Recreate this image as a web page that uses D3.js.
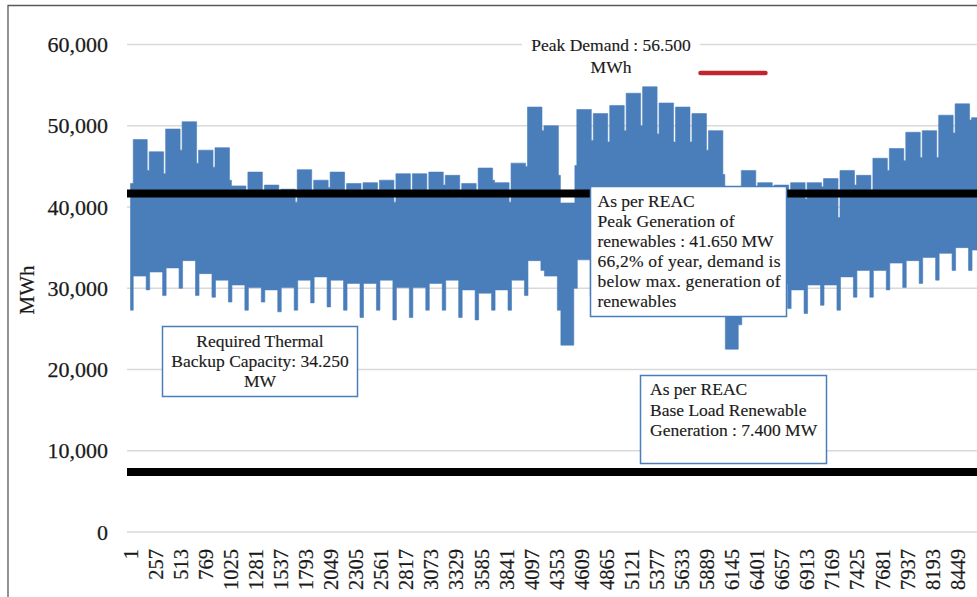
<!DOCTYPE html>
<html>
<head>
<meta charset="utf-8">
<script src="https://cdn.jsdelivr.net/npm/d3@7"></script>
<style>
  html, body { margin: 0; padding: 0; background: #ffffff; }
  svg { display: block; }
  text { font-family: "Liberation Serif", "Times New Roman", serif; fill: #1a1a1a; }
</style>
</head>
<body>
<script>
// ---- data (MWh) ----
// weekly blocks of the hourly demand envelope: weekend k is around hours [168k-7, 168k+29),
// weekday k covers hours [168k+29, 168k+161)
const weekdayHigh = [48300, 46800, 49600, 50500, 47000, 47300, 42600, 44300, 42700, 42200,
  44600, 43300, 44300, 42900, 43000, 43300, 44100, 44100, 44300, 43900,
  42900, 44800, 43000, 45400, 52300, 50000, 40500, 52000, 51500, 52500,
  54000, 54800, 52800, 52300, 51500, 49400, 41500, 44500, 43000, 42700,
  43000, 43000, 43500, 44500, 43900, 46000, 47200, 49200, 49400, 51300,
  52700, 51000];
const weekdayLow = [31500, 32000, 32500, 33400, 31800, 31000, 30400, 30100, 29800, 30100,
  31000, 31400, 31000, 30600, 30600, 31000, 30100, 30100, 30600, 31000,
  29800, 29400, 29800, 31000, 33400, 31500, 23000, 33500, 32000, 32000,
  32500, 32500, 32000, 32000, 31500, 31000, 22500, 30000, 30500, 30500,
  29800, 30400, 30400, 31400, 32200, 32200, 33100, 33400, 33800, 34300,
  35000, 34700];
const weekendHigh = [42900, 44500, 44100, 47000, 45400, 44900, 43300, 41500, 41700, 41800,
  40600, 42000, 42400, 42000, 41400, 42000, 40600, 42000, 42000, 42700,
  41200, 42000, 43300, 40600, 45000, 49400, 43900, 45100, 48200, 48000,
  49400, 50000, 49000, 48000, 48000, 47000, 44000, 40000, 41500, 41500,
  41500, 41000, 42500, 38700, 42700, 42000, 44500, 45700, 46100, 46100,
  49100, 50700, 48000];
const weekendLow = [27300, 29800, 29100, 30000, 29100, 28900, 28300, 27300, 28300, 27100,
  27300, 28200, 27700, 27300, 26400, 27300, 26100, 26400, 27300, 27300,
  26400, 26100, 27300, 27300, 29100, 32200, 27300, 30000, 29000, 29000,
  29000, 29000, 29000, 29000, 29000, 28500, 27000, 25500, 28000, 28000,
  27500, 26900, 27900, 27300, 28900, 28900, 29800, 30100, 30600, 31000,
  32200, 32200, 31500];

const yTicks = [0, 10000, 20000, 30000, 40000, 50000, 60000];
const xTickLabels = [1, 257, 513, 769, 1025, 1281, 1537, 1793, 2049, 2305, 2561, 2817,
  3073, 3329, 3585, 3841, 4097, 4353, 4609, 4865, 5121, 5377, 5633, 5889, 6145, 6401,
  6657, 6913, 7169, 7425, 7681, 7937, 8193, 8449];
const hoursInYear = 8760;

const peakGeneration = 41650;   // MW
const baseLoadGeneration = 7400; // MW
const peakDemand = { value: 56500, startHour: 5823, endHour: 6487 };

const boxThermal = ["Required Thermal", "Backup Capacity:  34.250", "MW"];
const boxPeak = ["As per REAC", "Peak Generation of", "renewables : 41.650 MW",
  "66,2% of year, demand is", "below max. generation of", "renewables"];
const boxBase = ["As per REAC", "Base Load Renewable", "Generation : 7.400 MW"];
const peakLabel = ["Peak Demand : 56.500", "MWh"];

// ---- build envelope points (step breakpoints of the weekly blocks) ----
const pts = [];
for (let k = 0; k < weekendHigh.length; k++) {
  const nextHigh = k < weekdayHigh.length ? weekdayHigh[k] : weekendHigh[k];
  if (k === 0) {
    pts.push({ h: 1, hi: weekendHigh[0], lo: weekendLow[0] });
  } else {
    pts.push({ h: 168 * k - 7, hi: weekdayHigh[k - 1], lo: weekendLow[k] });
    pts.push({ h: 168 * k + 4, hi: weekendHigh[k], lo: weekendLow[k] });
    pts.push({ h: 168 * k + 24, hi: nextHigh, lo: weekendLow[k] });
  }
  if (k < weekdayHigh.length) {
    pts.push({ h: 168 * k + 29, hi: weekdayHigh[k], lo: weekdayLow[k] });
  }
}
const lastP = pts[pts.length - 1];
pts.push({ h: hoursInYear, hi: lastP.hi, lo: lastP.lo });

// ---- drawing ----
const W = 977, H = 597;
const svg = d3.select("body").append("svg").attr("width", W).attr("height", H);

const x = d3.scaleLinear().domain([1, hoursInYear]).range([130.5, 130.5 + 8759 * 0.0979]);
const y = d3.scaleLinear().domain([0, 60000]).range([532, 44.5]);

const gridLeft = 127, gridRight = W;

// gridlines
svg.append("g").selectAll("line").data(yTicks).join("line")
  .attr("x1", gridLeft).attr("x2", gridRight)
  .attr("y1", d => y(d)).attr("y2", d => y(d))
  .attr("stroke", "#d9d9d9").attr("stroke-width", 1.3);

// y tick labels
svg.append("g").selectAll("text").data(yTicks).join("text")
  .attr("x", 108).attr("y", d => y(d)).attr("dy", "0.35em")
  .attr("text-anchor", "end").attr("font-size", 22)
  .attr("stroke", "#1a1a1a").attr("stroke-width", 0.25)
  .text(d => d3.format(",")(d));

// y axis title
svg.append("text").attr("transform", "translate(34,290) rotate(-90)")
  .attr("text-anchor", "middle").attr("font-size", 21)
  .attr("stroke", "#1a1a1a").attr("stroke-width", 0.2).text("MWh");

// x tick labels
svg.append("g").selectAll("text").data(xTickLabels).join("text")
  .attr("transform", d => `translate(${x(d)},549) rotate(-90)`)
  .attr("dy", "0.35em").attr("text-anchor", "end").attr("font-size", 20.5)
  .attr("stroke", "#1a1a1a").attr("stroke-width", 0.2)
  .text(d => d);

// demand area
const area = d3.area().x(d => x(d.h)).y0(d => y(d.lo)).y1(d => y(d.hi))
  .curve(d3.curveStepAfter);
svg.append("path").datum(pts).attr("d", area)
  .attr("fill", "#4a7ebb").attr("stroke", "#4a7ebb")
  .attr("stroke-width", 0.6).attr("stroke-linejoin", "round");

// generation lines
[peakGeneration, baseLoadGeneration].forEach(v => {
  svg.append("line").attr("x1", gridLeft).attr("x2", gridRight)
    .attr("y1", y(v)).attr("y2", y(v))
    .attr("stroke", "#000").attr("stroke-width", 8);
});

// peak demand marker
svg.append("line")
  .attr("x1", x(peakDemand.startHour)).attr("x2", x(peakDemand.endHour))
  .attr("y1", y(peakDemand.value)).attr("y2", y(peakDemand.value))
  .attr("stroke", "#c0272d").attr("stroke-width", 4.5).attr("stroke-linecap", "round");

// peak demand label
svg.append("rect").attr("x", 522).attr("y", 35).attr("width", 178).attr("height", 22)
  .attr("fill", "#fff");
svg.append("g").selectAll("text").data(peakLabel).join("text")
  .attr("x", 611).attr("y", (d, i) => 51 + i * 22)
  .attr("text-anchor", "middle").attr("font-size", 17.5)
  .attr("stroke", "#1a1a1a").attr("stroke-width", 0.15).text(d => d);

// annotation boxes
function addBox(bx, by, bw, bh, lines, opts) {
  const g = svg.append("g");
  g.append("rect").attr("x", bx).attr("y", by).attr("width", bw).attr("height", bh)
    .attr("fill", "#fff").attr("stroke", "#4a7ebb").attr("stroke-width", 1.5);
  g.selectAll("text").data(lines).join("text")
    .attr("x", opts.center ? bx + bw / 2 : opts.tx)
    .attr("y", (d, i) => opts.ty + i * opts.lh)
    .attr("text-anchor", opts.center ? "middle" : "start")
    .attr("font-size", 17.5)
    .attr("stroke", "#1a1a1a").attr("stroke-width", 0.15)
    .each(function (d, i) {
      if (opts.justify && opts.justify[i]) {
        d3.select(this).attr("textLength", opts.justify[i]).attr("lengthAdjust", "spacing");
      }
    })
    .text(d => d);
}
addBox(162.5, 326.5, 195, 70, boxThermal, { center: true, ty: 347, lh: 20 });
addBox(590.5, 186.5, 196, 130, boxPeak, { tx: 597.5, ty: 207, lh: 20,
  justify: { 1: 137, 2: 176, 3: 183, 4: 183 } });
addBox(640.5, 375.5, 186, 88, boxBase, { tx: 650, ty: 395, lh: 20.5 });

// outer frame
svg.append("path").attr("d", `M8,${H} L8,5.5 L${W},5.5`)
  .attr("fill", "none").attr("stroke", "#595959").attr("stroke-width", 1.3);
</script>
</body>
</html>
